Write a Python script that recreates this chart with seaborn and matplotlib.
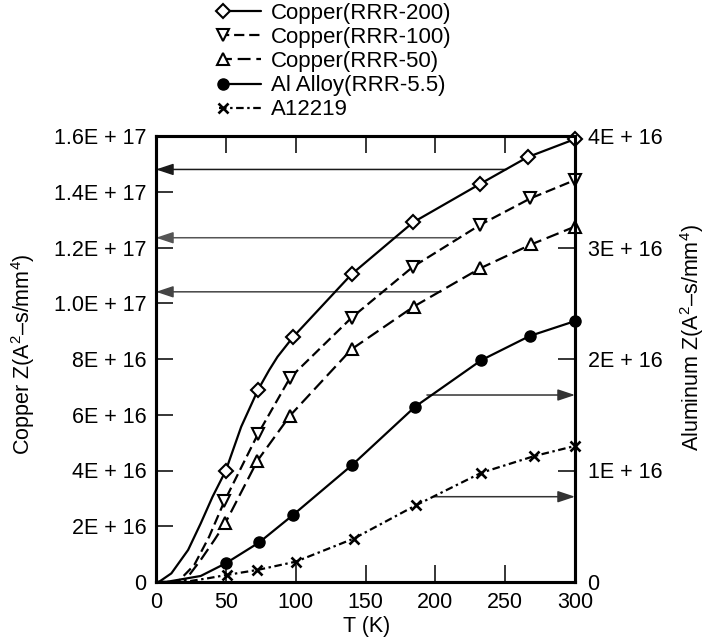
import numpy as np
import matplotlib
matplotlib.use("Agg")
import matplotlib.pyplot as plt
from matplotlib.lines import Line2D
from matplotlib.legend_handler import HandlerBase
import seaborn as sns

# ---------------- data ----------------
T_cu200 = [0, 2, 11, 23, 32, 40.5, 50, 61, 73, 81, 87, 98, 140, 184, 232, 266, 300]
Z_cu200 = [0, 0, 0.31e16, 1.15e16, 2.1e16, 3.06e16, 4.0e16, 5.57e16, 6.89e16,
           7.6e16, 8.08e16, 8.78e16, 11.04e16, 12.9e16, 14.28e16, 15.24e16, 15.89e16]
mk_cu200 = [6, 8, 11, 12, 13, 14, 15, 16]

T_cu100 = [0, 15.5, 27.4, 38, 49, 73, 96, 140, 184, 232, 268, 300]
Z_cu100 = [0, 0, 0.61e16, 1.62e16, 2.9e16, 5.31e16, 7.33e16, 9.48e16,
           11.31e16, 12.81e16, 13.76e16, 14.42e16]
mk_cu100 = [4, 5, 6, 7, 8, 9, 10, 11]

T_cu50 = [0, 20, 32, 41.7, 49.5, 72.6, 96, 140, 184.5, 232, 268.6, 300]
Z_cu50 = [0, 0, 0.79e16, 1.5e16, 2.1e16, 4.35e16, 5.97e16, 8.35e16,
          9.88e16, 11.25e16, 12.11e16, 12.75e16]
mk_cu50 = [4, 5, 6, 7, 8, 9, 10, 11]

T_al = [0, 7, 32, 50, 74, 98, 140.5, 185.5, 233, 267.5, 300]
Z_al = [0, 0, 0.054e16, 0.168e16, 0.356e16, 0.60e16, 1.05e16, 1.572e16,
        1.99e16, 2.206e16, 2.34e16]
mk_al = [3, 4, 5, 6, 7, 8, 9, 10]

T_a12 = [0, 20, 37, 50.5, 72.6, 100, 141.7, 186.4, 233, 271, 300]
Z_a12 = [0, 0, 0.033e16, 0.063e16, 0.108e16, 0.182e16, 0.39e16, 0.69e16,
         0.98e16, 1.13e16, 1.22e16]
mk_a12 = [3, 4, 5, 6, 7, 8, 9, 10]

labels = ["Copper(RRR-200)", "Copper(RRR-100)", "Copper(RRR-50)",
          "Al Alloy(RRR-5.5)", "A12219"]

x_ticks = [0, 50, 100, 150, 200, 250, 300]
y_left_ticks = [0, 2e16, 4e16, 6e16, 8e16, 1.0e17, 1.2e17, 1.4e17, 1.6e17]
y_left_labels = ["0", "2E + 16", "4E + 16", "6E + 16", "8E + 16",
                 "1.0E + 17", "1.2E + 17", "1.4E + 17", "1.6E + 17"]
y_right_ticks = [0, 1e16, 2e16, 3e16, 4e16]
y_right_labels = ["0", "1E + 16", "2E + 16", "3E + 16", "4E + 16"]

# annotation arrows: (y value, x start) ; left ones point to left axis
arrows_left_y = [1.48e17, 1.235e17, 1.041e17]
arrows_left_x = [251, 215, 204]
arrows_left_c = ["#1a1a1a", "#555555", "#444444"]
arrows_right_y = [1.677e16, 0.765e16]
arrows_right_x = [194, 199]

# ---------------- style ----------------
sns.set_style("ticks")
plt.rcParams["font.family"] = ["Liberation Sans", "DejaVu Sans"]
plt.rcParams["mathtext.fontset"] = "custom"
plt.rcParams["mathtext.rm"] = "Liberation Sans"
plt.rcParams["mathtext.it"] = "Liberation Sans:italic"
plt.rcParams["text.color"] = "black"
plt.rcParams["axes.labelcolor"] = "black"
plt.rcParams["xtick.color"] = "black"
plt.rcParams["ytick.color"] = "black"

FS = 15.5
FSL = 16
LW = 1.6
fig = plt.figure(figsize=(7.17, 6.39), dpi=100)
ax = fig.add_axes([156 / 717, 1 - 582 / 639, 419 / 717, 446 / 639])
ax2 = ax.twinx()

styles = [
    dict(marker="D", ms=7.2, mfc="white", mec="black", mew=1.5, ls="-"),
    dict(marker="v", ms=8, mfc="white", mec="black", mew=1.5, ls=(0, (4.6, 2.2))),
    dict(marker="^", ms=8, mfc="white", mec="black", mew=1.5, ls=(0, (5.8, 2.6))),
    dict(marker="o", ms=8, mfc="black", mec="black", mew=1.0, ls="-"),
    dict(marker="x", ms=6.8, mfc="black", mec="black", mew=1.9, ls=(0, (3.4, 1.6, 1.1, 1.6))),
]

series = [
    (ax, T_cu200, Z_cu200, mk_cu200),
    (ax, T_cu100, Z_cu100, mk_cu100),
    (ax, T_cu50, Z_cu50, mk_cu50),
    (ax2, T_al, Z_al, mk_al),
    (ax2, T_a12, Z_a12, mk_a12),
]

for (a, xs, ys, mk), st in zip(series, styles):
    sns.lineplot(x=xs, y=ys, ax=a, color="black", lw=LW, errorbar=None,
                 sort=False, markevery=mk, marker=st["marker"], ms=st["ms"],
                 markerfacecolor=st["mfc"], markeredgecolor=st["mec"],
                 markeredgewidth=st["mew"], linestyle=st["ls"],
                 clip_on=False, zorder=5)

# arrows
for yv, xs0, c in zip(arrows_left_y, arrows_left_x, arrows_left_c):
    ax.annotate("", xy=(0, yv), xytext=(xs0, yv),
                arrowprops=dict(arrowstyle="-|>,head_length=0.75,head_width=0.25",
                                color=c, lw=1.1, shrinkA=0, shrinkB=0,
                                mutation_scale=14))
for yv, xs0 in zip(arrows_right_y, arrows_right_x):
    ax2.annotate("", xy=(300, yv), xytext=(xs0, yv),
                 arrowprops=dict(arrowstyle="-|>,head_length=0.75,head_width=0.25",
                                 color="#333333", lw=1.1, shrinkA=0, shrinkB=0,
                                 mutation_scale=14))

# axes
ax.set_xlim(0, 300)
ax.set_ylim(0, 1.6e17)
ax2.set_ylim(0, 4e16)
ax.set_xticks(x_ticks)
ax.set_xticklabels([str(v) for v in x_ticks])
ax.set_yticks(y_left_ticks)
ax.set_yticklabels(y_left_labels)
ax2.set_yticks(y_right_ticks)
ax2.set_yticklabels(y_right_labels)

ax.tick_params(axis="x", direction="in", length=12, width=1.1, top=True,
               labelsize=FS, pad=7)
ax.tick_params(axis="y", direction="in", length=12, width=1.1, right=False,
               labelsize=FS, pad=7)
ax2.tick_params(axis="y", direction="in", length=12, width=1.1,
                labelsize=FS, pad=9)
for a in (ax, ax2):
    for s in a.spines.values():
        s.set_linewidth(2.2)
        s.set_color("black")

ax.set_xlabel("T (K)", fontsize=FS)
ax.xaxis.set_label_coords(0.503, -0.076)
ax.set_ylabel(r"Copper Z(A$\mathregular{^2}$–s/mm$\mathregular{^4}$)", fontsize=FS)
ax.yaxis.set_label_coords(-0.283, 0.511)
ax2.set_ylabel(r"Aluminum Z(A$\mathregular{^2}$–s/mm$\mathregular{^4}$)", fontsize=FS)
ax2.yaxis.set_label_coords(1.246, 0.547)


# legend with marker at the left end of the sample line
class LeftMarkerHandler(HandlerBase):
    def create_artists(self, legend, orig, xdescent, ydescent, width, height,
                       fontsize, trans):
        y = (height - ydescent) / 2
        line = Line2D([-xdescent, -xdescent + width], [y, y])
        line.update_from(orig)
        line.set_marker("None")
        line.set_transform(trans)
        mk = Line2D([-xdescent + 3], [y])
        mk.update_from(orig)
        mk.set_linestyle("None")
        mk.set_transform(trans)
        return [line, mk]


handles = []
for st in styles:
    h = Line2D([], [], color="black", lw=LW, marker=st["marker"], ms=st["ms"],
               markerfacecolor=st["mfc"], markeredgecolor=st["mec"],
               markeredgewidth=st["mew"], linestyle=st["ls"])
    handles.append(h)
fig.legend(handles, labels, loc="upper left",
           bbox_to_anchor=(219 / 717, 1 - 3 / 639), frameon=False,
           borderpad=0, borderaxespad=0, handlelength=1.9,
           handletextpad=0.45, labelspacing=0.14, fontsize=FSL,
           handler_map={Line2D: LeftMarkerHandler()})

fig.savefig("out.png", dpi=100)
